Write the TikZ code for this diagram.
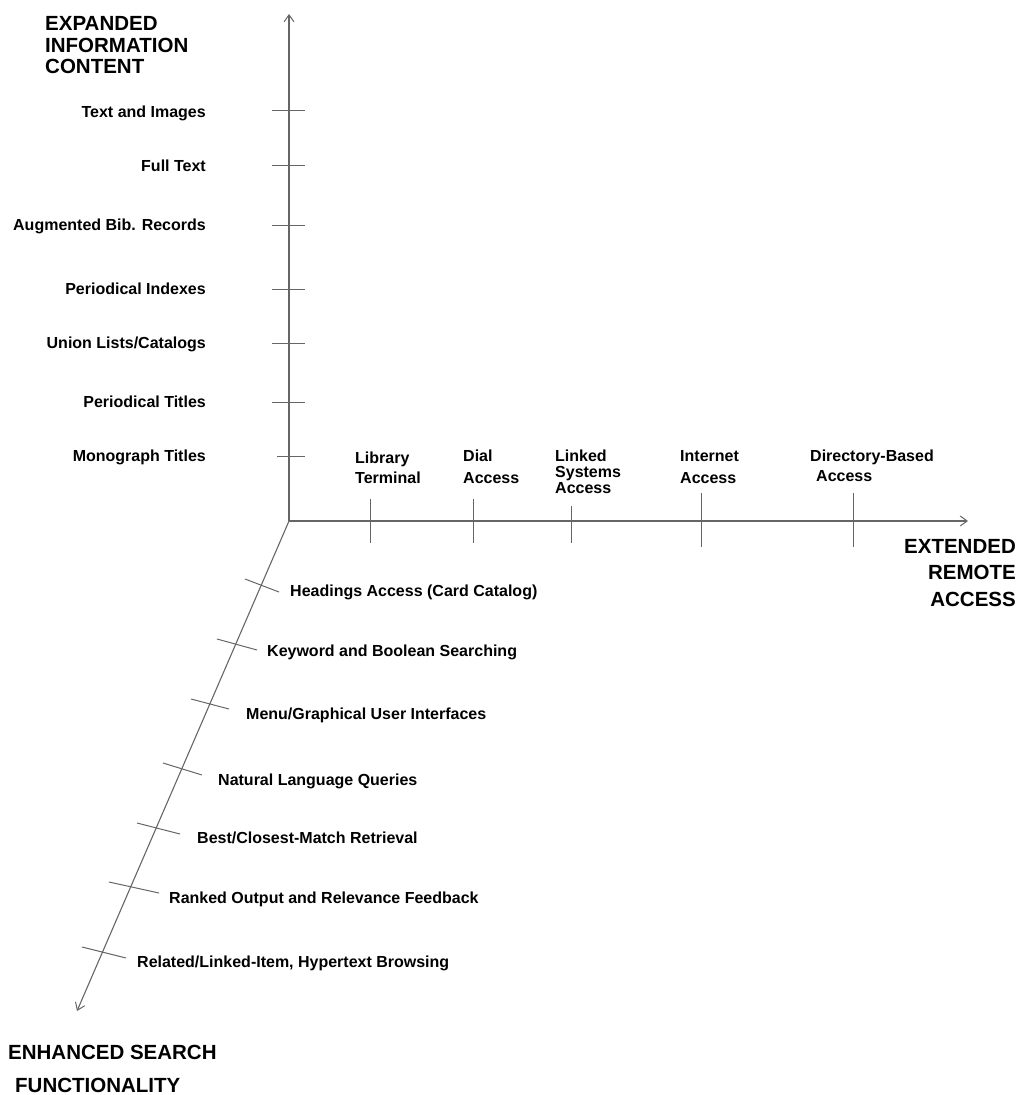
\documentclass[tikz,border=0pt]{standalone}
\usepackage{fontspec}
\setmainfont{Liberation Sans}
\usetikzlibrary{arrows.meta}
\begin{document}
\begin{tikzpicture}[x=1pt,y=-1pt,
  axis/.style={draw=black!60, line width=1.1pt, -{Straight Barb[length=7pt,width=10pt,line width=1pt]}},
  tickline/.style={draw=black!60, line width=1pt},
  lab/.style={font=\fontsize{16}{20}\selectfont\bfseries, inner sep=0pt, text=black},
  big/.style={inner sep=0pt, text=black}
]
\useasboundingbox (0,0) rectangle (1022,1095);

% axes
\coordinate (O) at (289,521);
\coordinate (Ytip) at (289,14);
\coordinate (Xtip) at (968,521);
\coordinate (Ztip) at (77,1011);
\draw[axis] (O) -- (Ytip);
\draw[axis] (O) -- (Xtip);
\draw[axis] (O) -- (Ztip);

% axis titles (base anchor = baseline of last line)
\node[big, anchor=base west, align=left, font=\fontsize{20.5}{21.3}\selectfont\bfseries] (ytitle) at (45,73.3) {EXPANDED\\INFORMATION\\CONTENT};
\node[big, anchor=base east, align=right, font=\fontsize{20.5}{26.5}\selectfont\bfseries] (xtitle) at (1016,606) {EXTENDED\\REMOTE\\ACCESS};
\node[big, anchor=base west, align=left, font=\fontsize{20.5}{33}\selectfont\bfseries] (ztitle) at (8,1092) {ENHANCED SEARCH\\\hspace*{7pt}FUNCTIONALITY};

% vertical ticks and labels
\draw[tickline] (272,110) -- (305,110);
\draw[tickline] (272,165) -- (305,165);
\draw[tickline] (272,225) -- (305,225);
\draw[tickline] (272,289) -- (305,289);
\draw[tickline] (272,343) -- (305,343);
\draw[tickline] (272,402) -- (305,402);
\draw[tickline] (277,456) -- (305,456);
\node[lab, anchor=base east] (y1) at (206,117) {Text and Images};
\node[lab, anchor=base east] (y2) at (206,171) {Full Text};
\node[lab, anchor=base east] (y3) at (206,230) {Augmented Bib. Records};
\node[lab, anchor=base east] (y4) at (206,294) {Periodical Indexes};
\node[lab, anchor=base east] (y5) at (206,348) {Union Lists/Catalogs};
\node[lab, anchor=base east] (y6) at (206,407) {Periodical Titles};
\node[lab, anchor=base east] (y7) at (206,461) {Monograph Titles};

% horizontal ticks and labels
\draw[tickline] (370,499) -- (370,543);
\draw[tickline] (473,499) -- (473,543);
\draw[tickline] (571,506) -- (571,543);
\draw[tickline] (701,493) -- (701,547);
\draw[tickline] (853,493) -- (853,547);
\node[lab, anchor=base west, align=left] (x1) at (355,483) {Library\\Terminal};
\node[lab, anchor=base west, align=left, font=\fontsize{16}{22}\selectfont\bfseries] (x2) at (463,483) {Dial\\Access};
\node[lab, anchor=base west, align=left, font=\fontsize{16}{16}\selectfont\bfseries] (x3) at (555,493) {Linked\\Systems\\Access};
\node[lab, anchor=base west, align=left, font=\fontsize{16}{22}\selectfont\bfseries] (x4) at (680,483) {Internet\\Access};
\node[lab, anchor=base west, align=left] (x5) at (810,481) {Directory-Based\\\hspace*{6pt}Access};

% diagonal ticks and labels
\draw[tickline] (245,579) -- (279,592);
\draw[tickline] (217,639) -- (257,650);
\draw[tickline] (191,699) -- (229,709);
\draw[tickline] (163,763) -- (202,775);
\draw[tickline] (137,823) -- (180,834);
\draw[tickline] (109,882) -- (159,893);
\draw[tickline] (82,947) -- (126,958);
\node[lab, anchor=base west] (z1) at (290,596) {Headings Access (Card Catalog)};
\node[lab, anchor=base west] (z2) at (267,656) {Keyword and Boolean Searching};
\node[lab, anchor=base west] (z3) at (246,719) {Menu/Graphical User Interfaces};
\node[lab, anchor=base west] (z4) at (218,785) {Natural Language Queries};
\node[lab, anchor=base west] (z5) at (197,843) {Best/Closest-Match Retrieval};
\node[lab, anchor=base west] (z6) at (169,903) {Ranked Output and Relevance Feedback};
\node[lab, anchor=base west] (z7) at (137,967) {Related/Linked-Item, Hypertext Browsing};
\end{tikzpicture}
\end{document}
